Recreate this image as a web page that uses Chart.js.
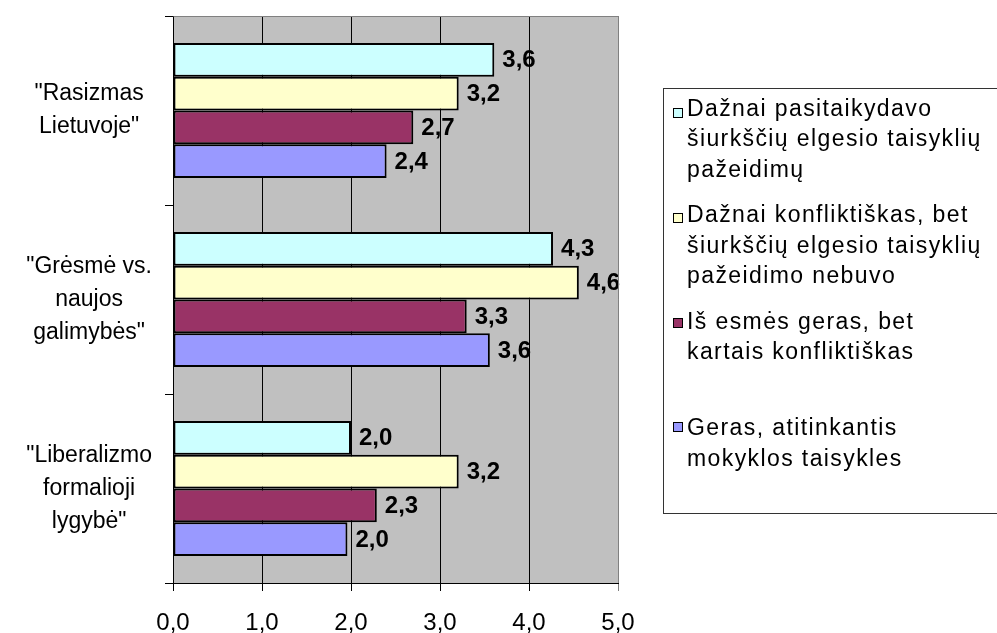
<!DOCTYPE html>
<html><head><meta charset="utf-8">
<script src="https://cdn.jsdelivr.net/npm/chart.js@4/dist/chart.umd.min.js"></script>
<style>html,body{margin:0;padding:0;background:#fff}canvas{display:block}</style>
</head><body>
<canvas id="c" width="997" height="633"></canvas>
<script>
const categories = [
  ['"Rasizmas', 'Lietuvoje"'],
  ['"Grėsmė vs.', 'naujos', 'galimybės"'],
  ['"Liberalizmo', 'formalioji', 'lygybė"']
];
const seriesNames = [
  ['Dažnai pasitaikydavo', 'šiurkščių elgesio taisyklių', 'pažeidimų'],
  ['Dažnai konfliktiškas, bet', 'šiurkščių elgesio taisyklių', 'pažeidimo nebuvo'],
  ['Iš esmės geras, bet', 'kartais konfliktiškas'],
  ['Geras, atitinkantis', 'mokyklos taisykles']
];
const seriesColors = ['#CCFFFF', '#FFFFCC', '#993366', '#9999FF'];
const valuesFrequentViolations = [3.61, 4.27, 2.00];
const valuesConflictNoViolations = [3.21, 4.56, 3.21];
const valuesMostlyGood = [2.70, 3.30, 2.29];
const valuesGood = [2.40, 3.56, 1.96];
const xMin = 0, xMax = 5, xStep = 1;

const seriesValues = [valuesFrequentViolations, valuesConflictNoViolations, valuesMostlyGood, valuesGood];
const fmt = v => v.toFixed(1).replace('.', ',');
const FONT = '"Liberation Sans", Arial, sans-serif';

const bgPlugin = {
  id: 'bg',
  beforeDraw(chart) {
    const {ctx, chartArea: a} = chart;
    ctx.save();
    ctx.fillStyle = '#C0C0C0';
    ctx.fillRect(a.left, a.top, a.right - a.left, a.bottom - a.top);
    ctx.restore();
  },
  afterDraw(chart) {
    const {ctx, chartArea: a} = chart;
    ctx.save();
    ctx.strokeStyle = '#808080';
    ctx.lineWidth = 1;
    ctx.beginPath();
    ctx.moveTo(Math.round(a.left) + 0.5, Math.round(a.top) + 0.5);
    ctx.lineTo(Math.round(a.right) + 0.5, Math.round(a.top) + 0.5);
    ctx.lineTo(Math.round(a.right) + 0.5, Math.round(a.bottom));
    ctx.stroke();
    ctx.restore();
  }
};

const valueLabels = {
  id: 'valueLabels',
  afterDatasetsDraw(chart) {
    const ctx = chart.ctx;
    ctx.save();
    ctx.font = 'bold 24px ' + FONT;
    ctx.fillStyle = '#000';
    ctx.textAlign = 'left';
    ctx.textBaseline = 'middle';
    chart.data.datasets.forEach((ds, i) => {
      chart.getDatasetMeta(i).data.forEach((el, j) => {
        ctx.fillText(fmt(ds.data[j]), el.x + 8, el.y + 1);
      });
    });
    ctx.restore();
  }
};

const boxLegend = {
  id: 'boxLegend',
  afterDraw(chart) {
    const ctx = chart.ctx;
    const left = 663, top = 88, bottom = 513;
    ctx.save();
    ctx.strokeStyle = '#333';
    ctx.lineWidth = 1;
    ctx.strokeRect(left + 0.5, top + 0.5, 1100, bottom - top);
    ctx.font = '23px ' + FONT;
    ctx.fillStyle = '#000';
    ctx.textAlign = 'left';
    ctx.textBaseline = 'alphabetic';
    ctx.letterSpacing = '1.4px';
    chart.data.datasets.forEach((ds, i) => {
      const base = 116 + i * 106.4;
      const mc = base - 3 - i * 1.6;
      ctx.fillStyle = ds.backgroundColor;
      ctx.fillRect(673, Math.round(mc - 5), 10, 10);
      ctx.strokeStyle = '#000';
      ctx.lineWidth = 1;
      ctx.strokeRect(673.5, Math.round(mc - 5) + 0.5, 9, 9);
      ctx.fillStyle = '#000';
      seriesNames[i].forEach((line, k) => {
        ctx.fillText(line, 687, base + k * 30.4);
      });
    });
    ctx.letterSpacing = '0px';
    ctx.restore();
  }
};

new Chart(document.getElementById('c'), {
  type: 'bar',
  data: {
    labels: categories,
    datasets: seriesValues.map((vals, i) => ({
      label: seriesNames[i].join(' '),
      data: vals,
      backgroundColor: seriesColors[i],
      borderColor: '#000',
      borderWidth: 2,
      borderSkipped: false,
      categoryPercentage: 0.715,
      barPercentage: 1.0
    }))
  },
  options: {
    indexAxis: 'y',
    responsive: false,
    animation: false,
    devicePixelRatio: 1,
    layout: {padding: {top: 16, right: 379, left: 0, bottom: 0}},
    plugins: {legend: {display: false}, tooltip: {enabled: false}},
    scales: {
      x: {
        min: xMin, max: xMax,
        afterFit(s) { s.height = 50; s.paddingLeft = 0; s.paddingRight = 0; },
        ticks: {
          stepSize: xStep,
          callback: v => fmt(v),
          color: '#000',
          padding: 18,
          font: {family: FONT, size: 24}
        },
        grid: {
          color: c => (c.tick && c.tick.value === xMax) ? '#808080' : '#000',
          lineWidth: 1,
          tickLength: 8,
          drawOnChartArea: true
        },
        border: {display: true, color: '#000', width: 1}
      },
      y: {
        afterFit(s) { s.width = 173; s.paddingTop = 0; s.paddingBottom = 0; },
        ticks: {
          color: '#000',
          crossAlign: 'center',
          padding: 13,
          font: {family: FONT, size: 23, lineHeight: 33 / 23}
        },
        grid: {
          drawOnChartArea: false,
          tickLength: 8,
          color: '#000',
          offset: true
        },
        border: {display: true, color: '#000', width: 1}
      }
    }
  },
  plugins: [bgPlugin, valueLabels, boxLegend]
});
</script>
</body></html>
